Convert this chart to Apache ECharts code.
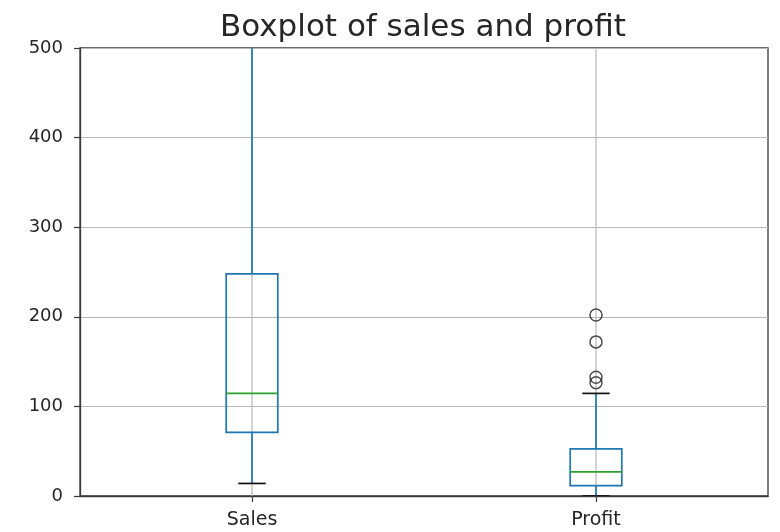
<!DOCTYPE html>
<html>
<head>
<meta charset="utf-8">
<script src="https://cdn.jsdelivr.net/npm/echarts@6/dist/echarts.min.js"></script>
<style>
  html, body { margin: 0; padding: 0; background: #fff; }
  #chart { width: 780px; height: 532px; }
</style>
</head>
<body>
<div id="chart"></div>
<script>
// Box statistics per column
const categories = ['Sales', 'Profit'];
const lowerWhisker = [14, 0];
const q1 = [71, 11.5];
const median = [114.5, 27];
const q3 = [248, 52.5];
const upperWhisker = [512, 114.5];
// Points beyond the whiskers (Profit column)
const profitOutliers = [202, 172, 132.5, 126.5];
const yTicks = [0, 100, 200, 300, 400, 500];

const FONT = 'DejaVu Sans';
const boxData = categories.map((c, i) => [i, lowerWhisker[i], q1[i], median[i], q3[i], upperWhisker[i]]);
const outlierData = profitOutliers.map(v => [categories.indexOf('Profit'), v]);

function renderBox(params, api) {
  const x = api.value(0);
  const band = api.size([1, 0])[0];
  const half = band * 0.075;
  const capHalf = band * 0.04;
  const pLow = api.coord([x, api.value(1)]);
  const pQ1 = api.coord([x, api.value(2)]);
  const pMed = api.coord([x, api.value(3)]);
  const pQ3 = api.coord([x, api.value(4)]);
  const pHigh = api.coord([x, api.value(5)]);
  const gTop = api.coord([x, yTicks[yTicks.length - 1]]);
  const gBot = api.coord([x, yTicks[0]]);
  const cx = pQ1[0];
  const blue = '#1f77b4';
  const lw = 1.7;
  return {
    type: 'group',
    children: [
      // vertical grid line at the category position
      { type: 'line', shape: { x1: cx, y1: gTop[1], x2: cx, y2: gBot[1] },
        style: { stroke: '#b8b8b8', lineWidth: 1.2 }, z2: 0 },
      // whiskers
      { type: 'line', shape: { x1: cx, y1: pQ3[1], x2: cx, y2: pHigh[1] },
        style: { stroke: blue, lineWidth: lw }, z2: 1 },
      { type: 'line', shape: { x1: cx, y1: pQ1[1], x2: cx, y2: pLow[1] },
        style: { stroke: blue, lineWidth: lw }, z2: 1 },
      // box
      { type: 'rect', shape: { x: cx - half, y: pQ3[1], width: half * 2, height: pQ1[1] - pQ3[1] },
        style: { fill: 'none', stroke: blue, lineWidth: lw }, z2: 2 },
      // median
      { type: 'line', shape: { x1: cx - half, y1: pMed[1], x2: cx + half, y2: pMed[1] },
        style: { stroke: '#2ca02c', lineWidth: lw }, z2: 3 },
      // caps
      { type: 'line', shape: { x1: cx - capHalf, y1: pHigh[1], x2: cx + capHalf, y2: pHigh[1] },
        style: { stroke: '#111', lineWidth: lw }, z2: 3 },
      { type: 'line', shape: { x1: cx - capHalf, y1: pLow[1], x2: cx + capHalf, y2: pLow[1] },
        style: { stroke: '#111', lineWidth: lw }, z2: 3 }
    ]
  };
}

const chart = echarts.init(document.getElementById('chart'), null, { renderer: 'canvas' });
chart.setOption({
  animation: false,
  backgroundColor: '#fff',
  title: {
    text: 'Boxplot of sales and profit',
    left: 418, top: 7, textAlign: 'center',
    textStyle: { fontFamily: FONT, fontSize: 31, fontWeight: 'normal', color: '#262626' }
  },
  grid: {
    left: 80, right: 12, top: 48, bottom: 36,
    show: true, borderColor: '#3a3a3a', borderWidth: 1.3, backgroundColor: 'transparent'
  },
  xAxis: {
    type: 'category',
    data: categories,
    boundaryGap: true,
    axisLine: { show: true, lineStyle: { color: '#3a3a3a', width: 1.3 } },
    axisTick: { show: true, alignWithLabel: true, length: 6, lineStyle: { color: '#3a3a3a', width: 1.2 } },
    axisLabel: { fontFamily: FONT, fontSize: 19, color: '#262626', margin: 15 },
    splitLine: { show: false }
  },
  yAxis: {
    type: 'value',
    min: yTicks[0], max: yTicks[yTicks.length - 1], interval: 100,
    axisLine: { show: true, lineStyle: { color: '#3a3a3a', width: 1.3 } },
    axisTick: { show: true, length: 6, lineStyle: { color: '#3a3a3a', width: 1.2 } },
    axisLabel: { fontFamily: FONT, fontSize: 18, color: '#262626', margin: 17 },
    splitLine: { show: true, lineStyle: { color: '#b8b8b8', width: 1.2 } }
  },
  series: [
    {
      type: 'custom',
      clip: true,
      renderItem: renderBox,
      encode: { x: 0, y: [1, 2, 3, 4, 5] },
      data: boxData,
      silent: true
    },
    {
      type: 'scatter',
      data: outlierData,
      symbol: 'circle',
      symbolSize: 12,
      itemStyle: { color: 'rgba(0,0,0,0)', borderColor: '#222', borderWidth: 1.5 },
      silent: true,
      z: 5
    }
  ]
});
</script>
</body>
</html>
